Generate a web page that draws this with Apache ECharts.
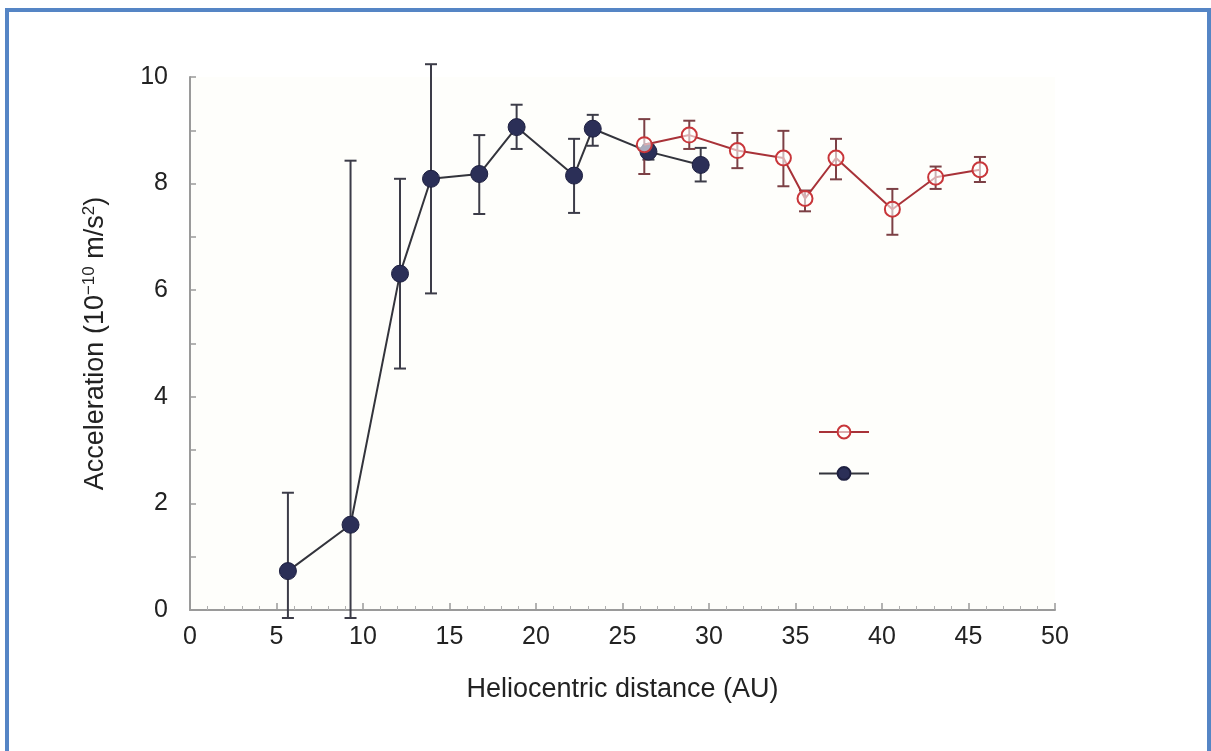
<!DOCTYPE html>
<html>
<head>
<meta charset="utf-8">
<script src="https://cdn.jsdelivr.net/npm/echarts@6/dist/echarts.min.js"></script>
<style>
  html, body { margin: 0; padding: 0; background: #fff; overflow: hidden; }
  #chart { position: absolute; left: 0; top: 0; width: 1211px; height: 751px; }
  #frame {
    position: absolute; left: 5px; top: 8px; width: 1198px; height: 760px;
    border: 4px solid #5585c5; pointer-events: none; z-index: 10;
  }
</style>
</head>
<body>
<div id="chart"></div>
<div id="frame"></div>
<script>
// 数据
const blueX  = [5.66, 9.28, 12.14, 13.93, 16.72, 18.88, 22.2, 23.28, 26.5, 29.52]
const blueY  = [0.73, 1.6, 6.31, 8.09, 8.18, 9.06, 8.15, 9.03, 8.6, 8.35]
const blueLo = [-0.15, -0.15, 4.53, 5.94, 7.43, 8.65, 7.45, 8.71, 8.45, 8.04]
const blueHi = [2.2, 8.43, 8.09, 10.24, 8.91, 9.48, 8.84, 9.29, 8.72, 8.67]

const redX  = [26.26, 28.86, 31.64, 34.3, 35.55, 37.34, 40.6, 43.1, 45.66]
const redY  = [8.73, 8.91, 8.62, 8.48, 7.72, 8.48, 7.52, 8.12, 8.26]
const redLo = [8.18, 8.65, 8.29, 7.95, 7.48, 8.08, 7.04, 7.9, 8.03]
const redHi = [9.21, 9.18, 8.95, 8.99, 7.87, 8.84, 7.9, 8.32, 8.5]

const xTicks = [0, 5, 10, 15, 20, 25, 30, 35, 40, 45, 50]
const yTicks = [0, 2, 4, 6, 8, 10]

const navy = '#2b2f57'
const red = '#c8363a'

function errorBars(xs, lo, hi, color) {
  return {
    type: 'custom',
    z: 1,
    clip: false,
    data: xs.map((x, i) => [x, lo[i], hi[i]]),
    encode: { x: 0, y: [1, 2] },
    renderItem: (params, api) => {
      const top = api.coord([api.value(0), api.value(2)])
      const bot = api.coord([api.value(0), api.value(1)])
      const cap = 6
      const style = { stroke: color, lineWidth: 2 }
      return {
        type: 'group',
        children: [
          { type: 'line', shape: { x1: top[0], y1: top[1], x2: bot[0], y2: bot[1] }, style },
          { type: 'line', shape: { x1: top[0] - cap, y1: top[1], x2: top[0] + cap, y2: top[1] }, style },
          { type: 'line', shape: { x1: bot[0] - cap, y1: bot[1], x2: bot[0] + cap, y2: bot[1] }, style }
        ]
      }
    }
  }
}

const chart = echarts.init(document.getElementById('chart'))

const tickFont = { fontFamily: 'Liberation Sans, Arial', fontSize: 25, color: '#222' }
const nameFont = { fontFamily: 'Liberation Sans, Arial', fontSize: 27, color: '#222' }

chart.setOption({
  animation: false,
  backgroundColor: '#fff',
  grid: { left: 190, right: 156, top: 77, bottom: 141, backgroundColor: '#fefefb', show: true, borderWidth: 0 },
  legend: {
    orient: 'vertical',
    left: 813,
    top: 419,
    itemWidth: 50,
    itemHeight: 16,
    itemGap: 26,
    formatter: () => '',
    data: ['red', 'blue'],
    selectedMode: false
  },
  xAxis: {
    type: 'value',
    min: xTicks[0],
    max: xTicks[xTicks.length - 1],
    interval: 5,
    name: 'Heliocentric distance (AU)',
    nameLocation: 'middle',
    nameGap: 66,
    nameTextStyle: nameFont,
    axisLine: { lineStyle: { color: '#9a9a9a', width: 2 } },
    axisTick: { inside: true, length: 7, lineStyle: { color: '#9a9a9a', width: 1.5 } },
    minorTick: { show: true, splitNumber: 5, length: 4, lineStyle: { color: '#b0b0b0' } },
    axisLabel: { ...tickFont, margin: 15 },
    splitLine: { show: false }
  },
  yAxis: {
    type: 'value',
    min: yTicks[0],
    max: yTicks[yTicks.length - 1],
    interval: 2,
    name: 'Acceleration (10{sup|−10} m/s{sup|2})',
    nameLocation: 'middle',
    nameGap: 80,
    nameTextStyle: {
      ...nameFont,
      rich: {
        sup: { fontFamily: 'Liberation Sans, Arial', fontSize: 17, color: '#222', verticalAlign: 'top', padding: [0, 0, 12, 0] }
      }
    },
    axisLine: { show: true, lineStyle: { color: '#9a9a9a', width: 2 } },
    axisTick: { show: true, inside: true, length: 6, lineStyle: { color: '#9a9a9a', width: 1.5 } },
    minorTick: { show: true, splitNumber: 2, length: 6, lineStyle: { color: '#9a9a9a', width: 1.5 } },
    axisLabel: { ...tickFont, margin: 22 },
    splitLine: { show: false }
  },
  series: [
    errorBars(blueX, blueLo, blueHi, '#3c3c48'),
    errorBars(redX, redLo, redHi, '#7c4045'),
    {
      name: 'blue',
      type: 'line',
      z: 3,
      data: blueX.map((x, i) => [x, blueY[i]]),
      symbol: 'circle',
      symbolSize: 17,
      itemStyle: { color: navy, borderColor: '#1e2040', borderWidth: 1 },
      lineStyle: { color: '#33343c', width: 2 }
    },
    {
      name: 'red',
      type: 'line',
      z: 4,
      data: redX.map((x, i) => [x, redY[i]]),
      symbol: 'circle',
      symbolSize: 15,
      itemStyle: { color: 'rgba(255,255,255,0.6)', borderColor: red, borderWidth: 2 },
      lineStyle: { color: '#a83238', width: 2 }
    }
  ]
})
</script>
</body>
</html>
